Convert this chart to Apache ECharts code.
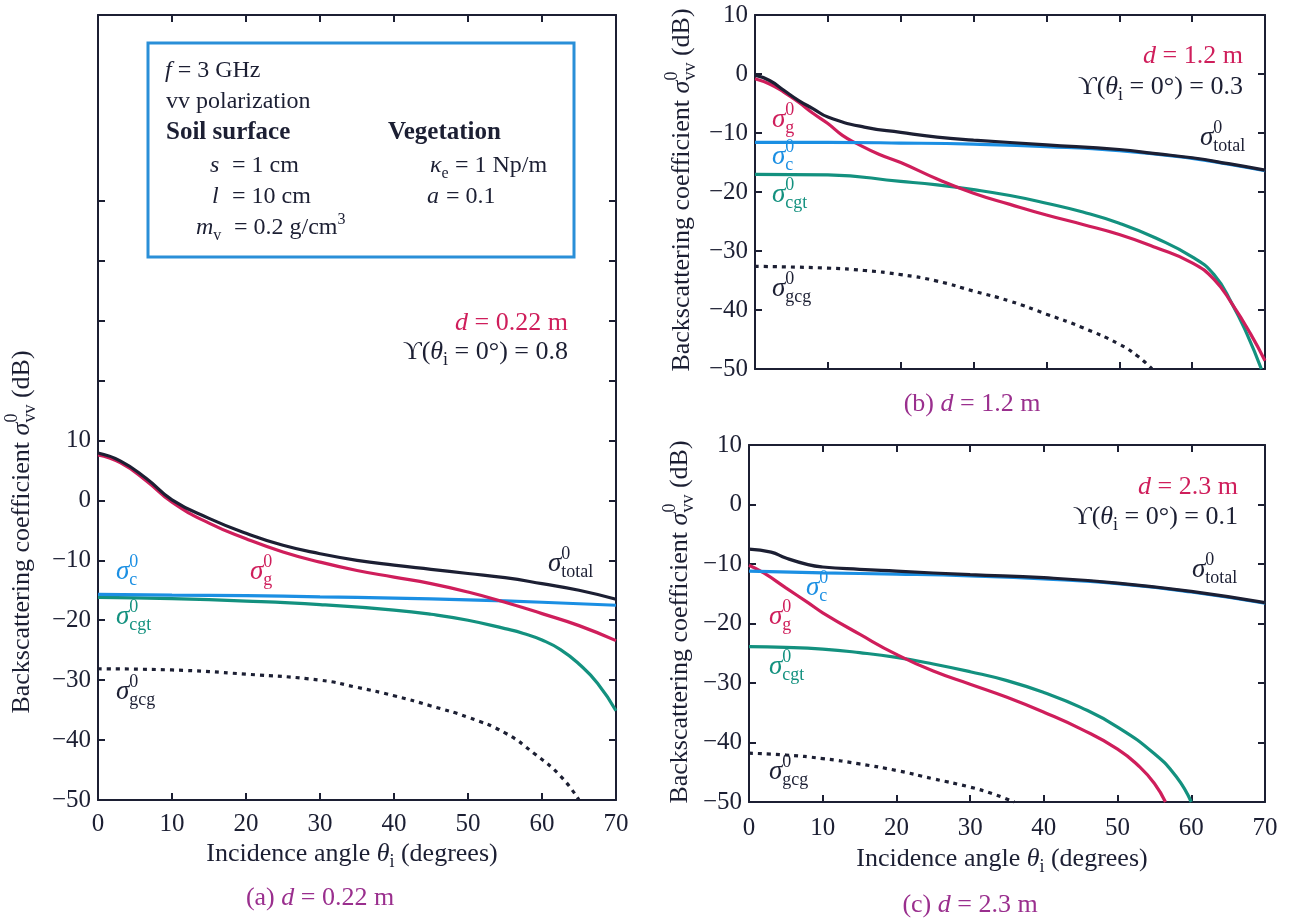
<!DOCTYPE html>
<html>
<head>
<meta charset="utf-8">
<script src="https://cdn.jsdelivr.net/npm/echarts@6/dist/echarts.min.js"></script>
<style>
html, body { margin: 0; padding: 0; background: #fff; }
#chart { width: 1290px; height: 923px; }
</style>
</head>
<body>
<div id="chart"></div>
<script>
// values: incidence angle (deg) -> sigma (dB)
// (a) d = 0.22 m
const aTotX = [0, 3, 6.5, 10, 15, 20, 25, 30, 35, 40, 45, 50, 55, 60, 65, 70];
const aTotY = [7.9, 6.6, 3.7, 0.1, -3.0, -5.5, -7.5, -8.9, -10.0, -10.8, -11.5, -12.2, -12.9, -13.9, -15.0, -16.5];
const aGX = [0, 3, 6.5, 10, 15, 20, 25, 30, 35, 40, 45, 50, 55, 60, 65, 70];
const aGY = [7.6, 6.3, 3.3, -0.3, -3.8, -6.4, -8.6, -10.3, -11.7, -12.8, -13.9, -15.3, -17.0, -18.9, -20.9, -23.4];
const aCX = [0, 10, 20, 30, 40, 50, 60, 70];
const aCY = [-15.7, -15.8, -15.9, -16.1, -16.3, -16.6, -17.0, -17.5];
const aCgtX = [0, 10, 20, 30, 40, 45, 50, 55, 57.5, 60, 62.5, 65, 67.5, 70];
const aCgtY = [-16.2, -16.4, -16.8, -17.4, -18.3, -19.0, -20.0, -21.4, -22.2, -23.3, -24.9, -27.3, -30.5, -35.1];
const aGcgX = [0, 10, 20, 30, 35, 40, 45, 50, 55, 59, 62.5, 65];
const aGcgY = [-28.1, -28.3, -29.0, -30.0, -31.2, -32.6, -34.3, -36.2, -38.8, -42.3, -46.0, -50];

// (b) d = 1.2 m
const bTotX = [0, 2, 4, 6, 8, 10, 15, 20, 25, 30, 40, 50, 55, 60, 65, 70];
const bTotY = [-0.2, -1.1, -2.8, -4.5, -5.9, -7.3, -9.0, -9.9, -10.7, -11.2, -12.0, -12.8, -13.5, -14.2, -15.2, -16.3];
const bGX = [0, 2, 4, 6, 8, 10, 12, 14, 17, 20, 25, 30, 35, 40, 45, 50, 55, 60, 63, 65.5, 68, 70];
const bGY = [-0.8, -1.7, -3.1, -4.8, -6.7, -8.4, -10.4, -11.8, -13.6, -15.0, -17.8, -20.2, -22.1, -23.9, -25.5, -27.2, -29.4, -32.0, -34.8, -39.0, -44.0, -48.6];
const bCX = [0, 10, 20, 30, 40, 50, 60, 65, 70];
const bCY = [-11.6, -11.6, -11.7, -11.9, -12.3, -13.0, -14.3, -15.3, -16.4];
const bCgtX = [0, 10, 20, 25, 30, 35, 40, 45, 50, 55, 60, 63, 65.5, 67.5, 69.5];
const bCgtY = [-17.0, -17.1, -18.2, -18.8, -19.6, -20.6, -21.9, -23.4, -25.3, -27.8, -31.0, -34.0, -39.0, -44.0, -50];
const bGcgX = [0, 10, 15, 20, 25, 30, 35, 40, 45, 50, 52.5, 54.5];
const bGcgY = [-32.6, -32.9, -33.3, -34.0, -35.1, -36.8, -38.5, -40.7, -43.0, -45.8, -47.8, -50];

// (c) d = 2.3 m
const cTotX = [0, 3, 5, 8, 10, 15, 20, 30, 40, 50, 60, 70];
const cTotY = [-7.5, -8.0, -9.0, -10.1, -10.5, -10.9, -11.2, -11.8, -12.3, -13.2, -14.6, -16.5];
const cCX = [0, 10, 20, 30, 40, 50, 60, 70];
const cCY = [-11.2, -11.5, -11.7, -12.0, -12.5, -13.3, -14.7, -16.6];
const cGX = [0, 2, 5, 8, 10, 15, 20, 25, 30, 35, 40, 45, 50, 53, 55, 56.5];
const cGY = [-10.2, -11.5, -14.0, -16.5, -18.2, -21.8, -25.2, -28.0, -30.2, -32.4, -34.9, -37.7, -41.1, -44.1, -46.9, -50];
const cCgtX = [0, 5, 10, 15, 20, 25, 30, 35, 40, 45, 50, 55, 58, 60];
const cCgtY = [-23.9, -24.0, -24.3, -24.9, -25.7, -26.8, -28.1, -29.6, -31.6, -34.1, -37.4, -41.9, -45.8, -50];
const cGcgX = [0, 5, 10, 15, 20, 25, 30, 33, 36];
const cGcgY = [-41.8, -42.1, -42.7, -43.6, -44.7, -46.1, -47.5, -48.6, -50];

// tick values
const angleTicks = [0, 10, 20, 30, 40, 50, 60, 70];
const aYTicks = [-50, -40, -30, -20, -10, 0, 10, 20, 30, 40, 50];
const aYLabels = [-50, -40, -30, -20, -10, 0, 10];

const FONT = '"Liberation Serif", "DejaVu Serif", serif';
const INK = '#1c1f33';
const RED = '#cf1e5b';
const BLUE = '#1b8fe3';
const TEAL = '#13917f';
const PURPLE = '#9a2f8e';

const measure = document.createElement('canvas').getContext('2d');
function textW(t, size, st) {
    measure.font = ((st || '') + ' ' + size + 'px ' + FONT).trim();
    return measure.measureText(t).width;
}

// a run of text pieces: plain strings, {i:..} italic, {b:..} bold, {sup, sub} stacked scripts
function line(x, y, parts, size, color, align) {
    let items = [], cx = 0;
    parts.forEach(p => {
        if (typeof p === 'string') p = { t: p };
        if (p.sup !== undefined || p.sub !== undefined) {
            const s = Math.round(size * 0.68);
            const w1 = p.sup ? textW(p.sup, s) : 0;
            const w2 = p.sub ? textW(p.sub, s) : 0;
            if (p.sup) items.push({ t: p.sup, x: cx, dy: -size * 0.36, size: s });
            if (p.sub) items.push({ t: p.sub, x: cx, dy: size * 0.32, size: s });
            cx += Math.max(w1, w2);
        } else {
            const st = p.i !== undefined ? 'italic' : (p.b !== undefined ? 'bold' : '');
            const t = p.i !== undefined ? p.i : (p.b !== undefined ? p.b : p.t);
            items.push({ t: t, x: cx, dy: 0, size: size, st: st });
            cx += textW(t, size, st);
        }
    });
    const off = align === 'right' ? -cx : (align === 'center' ? -cx / 2 : 0);
    return items.map(it => ({
        type: 'text',
        x: x + off + it.x,
        y: y + it.dy,
        silent: true,
        style: {
            text: it.t,
            fill: color,
            font: ((it.st || '') + ' ' + it.size + 'px ' + FONT).trim(),
            textAlign: 'left', align: 'left',
            textVerticalAlign: 'middle', verticalAlign: 'middle'
        }
    }));
}

function sig(x, y, sub, color) {
    return line(x, y, [{ i: 'σ' }, { sup: '0', sub: sub }], 27, color);
}

function yTitle(x, y) {
    return {
        type: 'group', x: x, y: y, rotation: Math.PI / 2,
        children: line(0, 0, ['Backscattering coefficient ', { i: 'σ' }, { sup: '0', sub: 'vv' }, ' (dB)'], 26, INK, 'center')
    };
}

function xTitle(x, y) {
    return line(x, y, ['Incidence angle ', { i: 'θ' }, { sub: 'i' }, ' (degrees)'], 26, INK, 'center');
}

function upsilon(x, y, v) {
    return line(x, y, ['ϒ(', { i: 'θ' }, { sub: 'i' }, ' = 0°) = ' + v], 26, INK, 'right');
}

const fmt = v => (v < 0 ? '\u2212' + (-v) : String(v));

const xAxes = [], yAxes = [];
function frame(gi, yMax, yTicks, yLabels, showX, labelMargin) {
    const line = { onZero: false, lineStyle: { color: INK, width: 2 } };
    const tick = { inside: true, length: 7, lineStyle: { color: INK, width: 2 } };
    const lab = { color: INK, fontFamily: FONT, fontSize: 25 };
    xAxes.push({
        gridIndex: gi, type: 'value', position: 'bottom', min: 0, max: 70, interval: 10,
        axisLine: line, axisTick: tick, splitLine: { show: false },
        axisLabel: Object.assign({ show: showX, margin: labelMargin, customValues: angleTicks }, lab)
    });
    xAxes.push({
        gridIndex: gi, type: 'value', position: 'top', min: 0, max: 70, interval: 10,
        axisLine: line, axisTick: tick, splitLine: { show: false }, axisLabel: { show: false }
    });
    const yTick = Object.assign({}, tick);
    if (yTicks) yTick.customValues = yTicks;
    const yLab = Object.assign({ margin: 7, formatter: fmt }, lab);
    if (yLabels) yLab.customValues = yLabels;
    yAxes.push({
        gridIndex: gi, type: 'value', position: 'left', min: -50, max: yMax, interval: 10,
        axisLine: line, axisTick: yTick, splitLine: { show: false }, axisLabel: yLab
    });
    yAxes.push({
        gridIndex: gi, type: 'value', position: 'right', min: -50, max: yMax, interval: 10,
        axisLine: line, axisTick: yTick, splitLine: { show: false }, axisLabel: { show: false }
    });
}

frame(0, 81, aYTicks, aYLabels, true, 12);
frame(1, 10, null, null, false, 10);
frame(2, 10, null, null, true, 14);

function curve(gi, xs, ys, color, dotted) {
    return {
        type: 'line', xAxisIndex: 2 * gi, yAxisIndex: 2 * gi,
        data: xs.map((x, k) => [x, ys[k]]),
        showSymbol: false, smooth: 0.5,
        lineStyle: { color: color, width: 3.2, type: dotted ? [4, 5] : 'solid', cap: 'butt' },
        emphasis: { disabled: true }, silent: true
    };
}

const series = [
    curve(0, aGcgX, aGcgY, INK, true),
    curve(0, aCgtX, aCgtY, TEAL),
    curve(0, aCX, aCY, BLUE),
    curve(0, aGX, aGY, RED),
    curve(0, aTotX, aTotY, INK),
    curve(1, bGcgX, bGcgY, INK, true),
    curve(1, bCgtX, bCgtY, TEAL),
    curve(1, bGX, bGY, RED),
    curve(1, bCX, bCY, BLUE),
    curve(1, bTotX, bTotY, INK),
    curve(2, cGcgX, cGcgY, INK, true),
    curve(2, cCgtX, cCgtY, TEAL),
    curve(2, cGX, cGY, RED),
    curve(2, cCX, cCY, BLUE),
    curve(2, cTotX, cTotY, INK)
];

const graphics = [].concat(
    // parameter box of panel (a)
    [{ type: 'rect', silent: true, shape: { x: 148, y: 43, width: 426, height: 214 },
       style: { fill: 'none', stroke: '#2a8fd8', lineWidth: 3 } }],
    line(165, 71, [{ i: 'f' }, ' = 3 GHz'], 24, INK),
    line(166, 102, ['vv polarization'], 24, INK),
    line(166, 133, [{ b: 'Soil surface' }], 25, INK),
    line(388, 133, [{ b: 'Vegetation' }], 25, INK),
    line(210, 166, [{ i: 's' }], 24, INK),
    line(232, 166, ['= 1 cm'], 24, INK),
    line(430, 166, [{ i: 'κ' }, { sub: 'e' }], 24, INK),
    line(455, 166, ['= 1 Np/m'], 24, INK),
    line(212, 197, [{ i: 'l' }], 24, INK),
    line(232, 197, ['= 10 cm'], 24, INK),
    line(427, 197, [{ i: 'a' }], 24, INK),
    line(446, 197, ['= 0.1'], 24, INK),
    line(196, 228, [{ i: 'm' }, { sub: 'v' }], 24, INK),
    line(234, 228, ['= 0.2 g/cm', { sup: '3' }], 24, INK),

    // panel (a)
    line(568, 323, [{ i: 'd' }, ' = 0.22 m'], 26, RED, 'right'),
    upsilon(568, 352, '0.8'),
    sig(116, 572, 'c', BLUE),
    sig(250, 572, 'g', RED),
    sig(548, 564, 'total', INK),
    sig(116, 617, 'cgt', TEAL),
    sig(116, 692, 'gcg', INK),
    xTitle(352, 854),
    line(320, 898, ['(a) ', { i: 'd' }, ' = 0.22 m'], 26, PURPLE, 'center'),
    [yTitle(22, 532)],

    // panel (b)
    line(1243, 56, [{ i: 'd' }, ' = 1.2 m'], 26, RED, 'right'),
    upsilon(1243, 87, '0.3'),
    sig(772, 120, 'g', RED),
    sig(1200, 138, 'total', INK),
    sig(772, 157, 'c', BLUE),
    sig(772, 195, 'cgt', TEAL),
    sig(772, 289, 'gcg', INK),
    line(972, 404, ['(b) ', { i: 'd' }, ' = 1.2 m'], 26, PURPLE, 'center'),
    [yTitle(682, 190)],

    // panel (c)
    line(1238, 487, [{ i: 'd' }, ' = 2.3 m'], 26, RED, 'right'),
    upsilon(1238, 517, '0.1'),
    sig(1192, 570, 'total', INK),
    sig(806, 588, 'c', BLUE),
    sig(769, 617, 'g', RED),
    sig(769, 667, 'cgt', TEAL),
    sig(769, 772, 'gcg', INK),
    xTitle(1002, 859),
    line(970, 905, ['(c) ', { i: 'd' }, ' = 2.3 m'], 26, PURPLE, 'center'),
    [yTitle(680, 622)]
);

const chart = echarts.init(document.getElementById('chart'), null, { renderer: 'canvas' });
chart.setOption({
    backgroundColor: '#ffffff',
    animation: false,
    textStyle: { fontFamily: FONT },
    grid: [
        { left: 98, top: 15, width: 518, height: 785 },
        { left: 755, top: 15, width: 510, height: 354 },
        { left: 749, top: 445, width: 516, height: 357 }
    ],
    xAxis: xAxes,
    yAxis: yAxes,
    series: series,
    graphic: { elements: graphics }
});
</script>
</body>
</html>
